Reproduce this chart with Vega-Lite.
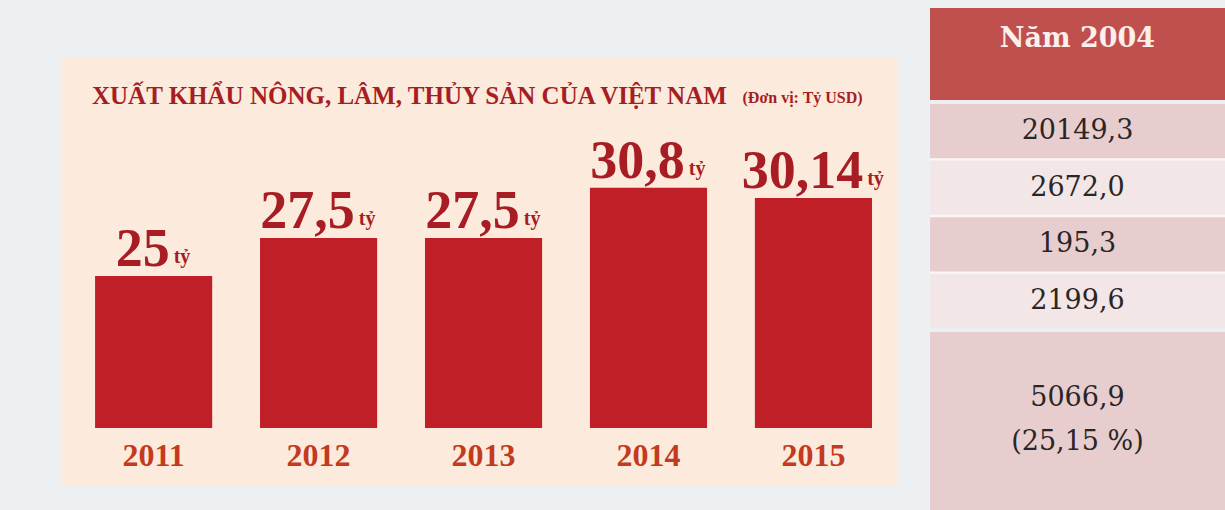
{
  "$schema": "https://vega.github.io/schema/vega-lite/v6.json",
  "background": "#edf0f3",
  "padding": {"left": 62, "top": 8, "right": 0, "bottom": 0},
  "spacing": 32,
  "center": true,
  "config": {"view": {"stroke": null}, "axis": {"grid": false}},
  "hconcat": [
    {
      "width": 836,
      "height": 428,
      "view": {"fill": "#fcebdc"},
      "title": {
        "text": "XUẤT KHẨU NÔNG, LÂM, THỦY SẢN CỦA VIỆT NAM",
        "anchor": "start",
        "frame": "group",
        "dx": 30,
        "offset": -72,
        "font": "Liberation Serif",
        "fontSize": 25,
        "fontWeight": "bold",
        "color": "#a71d24",
        "baseline": "alphabetic"
      },
      "data": {
        "values": [
          {"year": "2011", "value": 25, "label": "25"},
          {"year": "2012", "value": 27.5, "label": "27,5"},
          {"year": "2013", "value": 27.5, "label": "27,5"},
          {"year": "2014", "value": 30.8, "label": "30,8"},
          {"year": "2015", "value": 30.14, "label": "30,14"}
        ]
      },
      "encoding": {
        "x": {
          "field": "year",
          "type": "nominal",
          "sort": null,
          "scale": {"paddingInner": 0.29, "paddingOuter": 0.179, "align": 0.56},
          "axis": {
            "title": null,
            "orient": "bottom",
            "offset": -30,
            "domain": false,
            "ticks": false,
            "tickSize": 0,
            "labelPadding": 0,
            "labelBaseline": "middle",
            "labelAngle": 0,
            "labelFont": "Liberation Serif",
            "labelFontWeight": "bold",
            "labelFontSize": 32,
            "labelColor": "#c43a20"
          }
        },
        "y": {
          "field": "value",
          "type": "quantitative",
          "scale": {"domain": [11.25, 39.41], "zero": false, "nice": false},
          "axis": {
            "title": "(Đơn vị: Tỷ USD)",
            "labels": false,
            "ticks": false,
            "domain": false,
            "grid": false,
            "titleAngle": 0,
            "titleX": 680,
            "titleY": 45,
            "titleAlign": "left",
            "titleBaseline": "alphabetic",
            "titleFont": "Liberation Serif",
            "titleFontSize": 16,
            "titleFontWeight": "bold",
            "titleColor": "#a71d24"
          }
        }
      },
      "layer": [
        {"mark": {"type": "bar", "color": "#c11f27"}, "encoding": {"y2": {"datum": 15}}},
        {
          "mark": {
            "type": "text",
            "font": "Liberation Serif",
            "fontWeight": "bold",
            "fontSize": 54,
            "color": "#a81c24",
            "align": "center",
            "baseline": "alphabetic",
            "dx": -11,
            "dy": -10
          },
          "encoding": {"text": {"field": "label"}}
        },
        {
          "mark": {
            "type": "text",
            "text": "tỷ",
            "font": "Liberation Serif",
            "fontWeight": "bold",
            "fontSize": 20,
            "color": "#a81c24",
            "align": "left",
            "baseline": "alphabetic",
            "dx": {"expr": "-11 + (length(datum.label) * 27 - (indexof(datum.label, ',') >= 0 ? 13.5 : 0)) / 2 + 4"},
            "dy": -13
          },
          "encoding": {}
        }
      ]
    },
    {
      "spacing": 4,
      "vconcat": [
        {
          "width": 295,
          "height": 92,
          "view": {"fill": "#c0504d"},
          "data": {"values": [{"h": "Năm 2004"}]},
          "mark": {
            "type": "text",
            "font": "DejaVu Serif",
            "fontWeight": "bold",
            "fontSize": 27,
            "color": "#fcefec",
            "baseline": "middle",
            "dy": -15
          },
          "encoding": {"text": {"field": "h"}}
        },
        {
          "width": 295,
          "height": 224,
          "view": {"fill": "#fbf7f7"},
          "data": {
            "values": [
              {"row": "1", "v": "20149,3"},
              {"row": "2", "v": "2672,0"},
              {"row": "3", "v": "195,3"},
              {"row": "4", "v": "2199,6"}
            ]
          },
          "encoding": {
            "y": {
              "field": "row",
              "type": "ordinal",
              "axis": null,
              "scale": {"paddingInner": 0.04, "paddingOuter": 0}
            }
          },
          "layer": [
            {
              "mark": "rect",
              "encoding": {
                "color": {
                  "field": "row",
                  "type": "ordinal",
                  "scale": {"range": ["#e8cdce", "#f3e6e6", "#e8cdce", "#f3e6e6"]},
                  "legend": null
                }
              }
            },
            {
              "mark": {
                "type": "text",
                "font": "DejaVu Serif",
                "fontSize": 27,
                "color": "#2a2626",
                "baseline": "middle"
              },
              "encoding": {"text": {"field": "v"}}
            }
          ]
        },
        {
          "width": 295,
          "height": 202,
          "view": {"fill": "#e8cdce"},
          "data": {"values": [{"v": "5066,9\n(25,15 %)"}]},
          "mark": {
            "type": "text",
            "font": "DejaVu Serif",
            "fontSize": 27,
            "color": "#2a2626",
            "baseline": "middle",
            "lineBreak": "\n",
            "lineHeight": 44,
            "dy": -35
          },
          "encoding": {"text": {"field": "v"}}
        }
      ]
    }
  ]
}
